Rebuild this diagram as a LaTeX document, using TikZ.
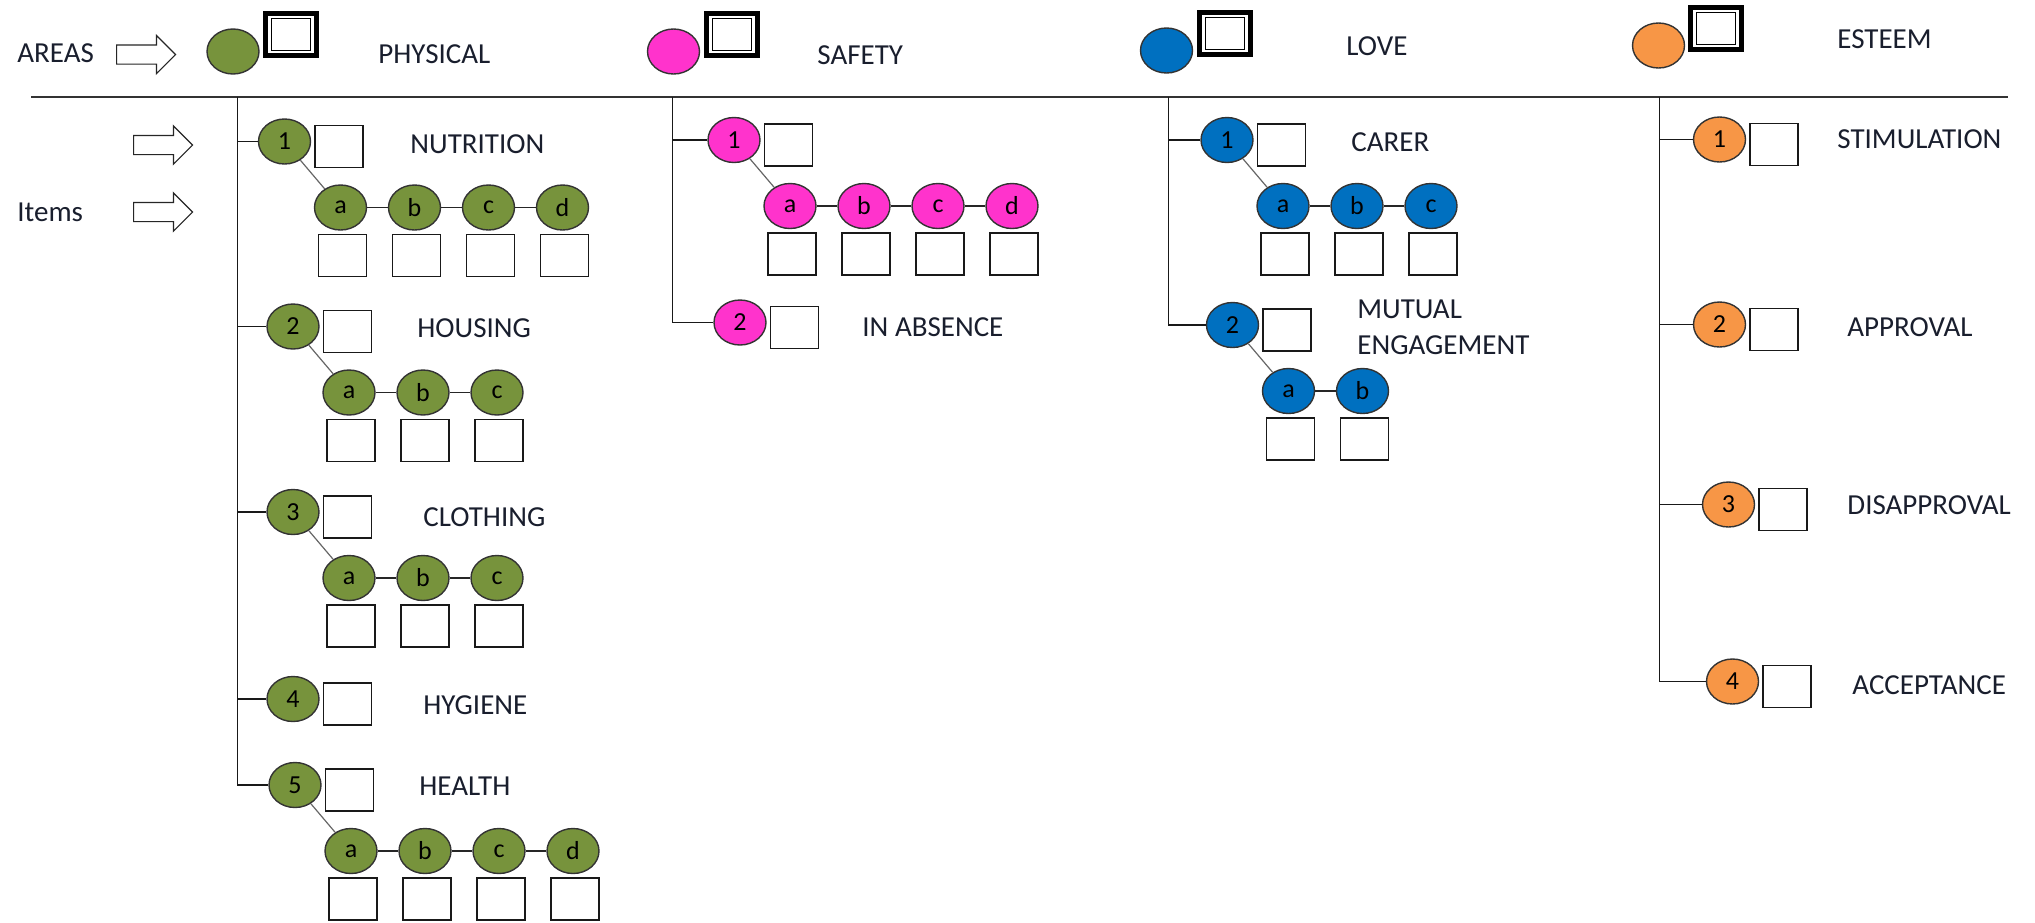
\documentclass[tikz,border=0pt]{standalone}
\usepackage{fontspec}
\setmainfont{Carlito}
\usepackage{tikz}
\usetikzlibrary{positioning,shapes.geometric,shapes.arrows}

\definecolor{physgreen}{RGB}{119,147,60}
\definecolor{safepink}{RGB}{255,51,204}
\definecolor{loveblue}{RGB}{0,112,192}
\definecolor{esteemorange}{RGB}{247,150,70}
\definecolor{txt}{RGB}{25,30,45}

\tikzset{
  item/.style={ellipse, draw=black!80, line width=0.7pt, minimum width=26pt, minimum height=22.5pt, inner sep=0pt, font=\fontsize{13}{13}\selectfont},
  phys/.style={item, fill=physgreen},
  safe/.style={item, fill=safepink},
  love/.style={item, fill=loveblue},
  est/.style={item, fill=esteemorange},
  cbox/.style={draw=black!90, line width=0.7pt, minimum width=24pt, minimum height=21pt, inner sep=0pt},
  areabox/.style={draw, line width=2.5pt, minimum width=25.5pt, minimum height=21pt, inner sep=0pt},
  areain/.style={draw, line width=0.5pt, minimum width=19.5pt, minimum height=16pt, inner sep=0pt},
  ttl/.style={anchor=west, inner sep=0pt, text=txt, font=\fontsize{14.5}{18}\selectfont},
  blockarrow/.style={single arrow, draw=black!85, line width=0.6pt, fill=white, inner xsep=0pt, inner ysep=4.5pt, single arrow head extend=4.75pt, minimum height=29.5pt, anchor=tail},
  link/.style={draw=black!85, line width=0.7pt},
  diag/.style={draw=black!60, line width=0.6pt},
  tree/.style={draw=black!90, line width=0.8pt}
}

\begin{document}
\begin{tikzpicture}[x=0.5pt, y=-0.5pt, on grid, node distance=37pt]
  \useasboundingbox (0,0) rectangle (2035,922);

  % legend on the left
  \node[ttl] (areas) at (17,53) {AREAS};
  \node[blockarrow] (arAreas) at (116,54.5) {};
  \node[blockarrow] (arNum) at (133,145) {};
  \node[blockarrow] (arItem) at (133,212) {};
  \node[ttl] (items) at (17,212) {Items};

  % areas
  \node[phys] (phA) at (233,51.5) {};
  \node[areabox] (phB) at (291,34) {};
  \node[areain] (phBin) at (phB) {};
  \node[ttl] (phL) at (378,54) {PHYSICAL};

  \node[safe] (saA) at (673.5,51.5) {};
  \node[areabox] (saB) at (732,34) {};
  \node[areain] (saBin) at (saB) {};
  \node[ttl] (saL) at (817,55) {SAFETY};

  \node[love] (loA) at (1166.5,50.5) {};
  \node[areabox] (loB) at (1225,33.5) {};
  \node[areain] (loBin) at (loB) {};
  \node[ttl] (loL) at (1346,46) {LOVE};

  \node[est] (esA) at (1658.5,45.5) {};
  \node[areabox] (esB) at (1716,28.7) {};
  \node[areain] (esBin) at (esB) {};
  \node[ttl] (esL) at (1837,39) {ESTEEM};

  \coordinate (ruleL) at (31,96.7);
  \coordinate (ruleR) at (2008,96.7);
  \draw[draw=black!80, line width=0.9pt] (ruleL) -- (ruleR);

  % physical
  \coordinate (phT) at (237.5,96.7);
  \node[phys] (ph1) at (284.5,141.5) {1};
  \node[phys] (ph2) at (293,326.5) {2};
  \node[phys] (ph3) at (293,512) {3};
  \node[phys] (ph4) at (293,699) {4};
  \node[phys] (ph5) at (295,785) {5};
  \node[ttl] (ph1L) at (410,144) {NUTRITION};
  \node[ttl] (ph2L) at (417,328) {HOUSING};
  \node[ttl] (ph3L) at (423,517) {CLOTHING};
  \node[ttl] (ph4L) at (423,705) {HYGIENE};
  \node[ttl] (ph5L) at (419,786) {HEALTH};

  \node[phys] (ph1a) [below right=33pt and 28pt of ph1] {a};
  \node[phys] (ph1b) [right=of ph1a] {b};
  \node[phys] (ph1c) [right=of ph1b] {c};
  \node[phys] (ph1d) [right=of ph1c] {d};
  \node[phys] (ph2a) [below right=33pt and 28pt of ph2] {a};
  \node[phys] (ph2b) [right=of ph2a] {b};
  \node[phys] (ph2c) [right=of ph2b] {c};
  \node[phys] (ph3a) [below right=33pt and 28pt of ph3] {a};
  \node[phys] (ph3b) [right=of ph3a] {b};
  \node[phys] (ph3c) [right=of ph3b] {c};
  \node[phys] (ph5a) [below right=33pt and 28pt of ph5] {a};
  \node[phys] (ph5b) [right=of ph5a] {b};
  \node[phys] (ph5c) [right=of ph5b] {c};
  \node[phys] (ph5d) [right=of ph5c] {d};

  % safety
  \coordinate (saT) at (672.3,96.7);
  \node[safe] (sa1) at (734,140) {1};
  \node[safe] (sa2) at (740,322.5) {2};
  \node[ttl] (sa2L) at (862,327) {IN ABSENCE};

  \node[safe] (sa1a) [below right=33pt and 28pt of sa1] {a};
  \node[safe] (sa1b) [right=of sa1a] {b};
  \node[safe] (sa1c) [right=of sa1b] {c};
  \node[safe] (sa1d) [right=of sa1c] {d};

  % love
  \coordinate (loT) at (1168.5,96.7);
  \node[love] (lo1) at (1227,140) {1};
  \node[love] (lo2) at (1232.5,325) {2};
  \node[ttl] (lo1L) at (1351,142) {CARER};
  \node[ttl, align=left] (lo2L) at (1357,327) {MUTUAL\\ENGAGEMENT};

  \node[love] (lo1a) [below right=33pt and 28pt of lo1] {a};
  \node[love] (lo1b) [right=of lo1a] {b};
  \node[love] (lo1c) [right=of lo1b] {c};
  \node[love] (lo2a) [below right=33pt and 28pt of lo2] {a};
  \node[love] (lo2b) [right=of lo2a] {b};

  % esteem
  \coordinate (esT) at (1659.5,96.7);
  \node[est] (es1) at (1719.5,139.5) {1};
  \node[est] (es2) at (1719.5,324.5) {2};
  \node[est] (es3) at (1728.5,504.5) {3};
  \node[est] (es4) at (1732.5,681.5) {4};
  \node[ttl] (es1L) at (1837,139) {STIMULATION};
  \node[ttl] (es2L) at (1847,327) {APPROVAL};
  \node[ttl] (es3L) at (1847,505) {DISAPPROVAL};
  \node[ttl] (es4L) at (1852,685) {ACCEPTANCE};

  % boxes
  \foreach \n in {ph1,ph2,ph3,ph4,ph5,sa1,sa2,lo1,lo2,es1,es2,es3,es4}
    \node[cbox] (\n B) [below right=2.5pt and 27.25pt of \n] {};
  \foreach \c in {ph1a,ph1b,ph1c,ph1d,ph2a,ph2b,ph2c,ph3a,ph3b,ph3c,ph5a,ph5b,ph5c,ph5d,
                  sa1a,sa1b,sa1c,sa1d,lo1a,lo1b,lo1c,lo2a,lo2b}
    \node[cbox] (\c B) [below right=24pt and 1pt of \c] {};

  % tree lines
  \draw[tree] (phT) |- (ph5);
  \draw[tree] (phT |- ph1) -- (ph1) (phT |- ph2) -- (ph2) (phT |- ph3) -- (ph3) (phT |- ph4) -- (ph4);
  \draw[tree] (saT) |- (sa2);
  \draw[tree] (saT |- sa1) -- (sa1);
  \draw[tree] (loT) |- (lo2);
  \draw[tree] (loT |- lo1) -- (lo1);
  \draw[tree] (esT) |- (es4);
  \draw[tree] (esT |- es1) -- (es1) (esT |- es2) -- (es2) (esT |- es3) -- (es3);

  \path[diag] (ph1) edge (ph1a) (ph2) edge (ph2a) (ph3) edge (ph3a) (ph5) edge (ph5a)
              (sa1) edge (sa1a) (lo1) edge (lo1a) (lo2) edge (lo2a);

  \path[link]
    (ph1a) edge (ph1b) (ph1b) edge (ph1c) (ph1c) edge (ph1d)
    (ph2a) edge (ph2b) (ph2b) edge (ph2c)
    (ph3a) edge (ph3b) (ph3b) edge (ph3c)
    (ph5a) edge (ph5b) (ph5b) edge (ph5c) (ph5c) edge (ph5d)
    (sa1a) edge (sa1b) (sa1b) edge (sa1c) (sa1c) edge (sa1d)
    (lo1a) edge (lo1b) (lo1b) edge (lo1c)
    (lo2a) edge (lo2b);
\end{tikzpicture}
\end{document}
